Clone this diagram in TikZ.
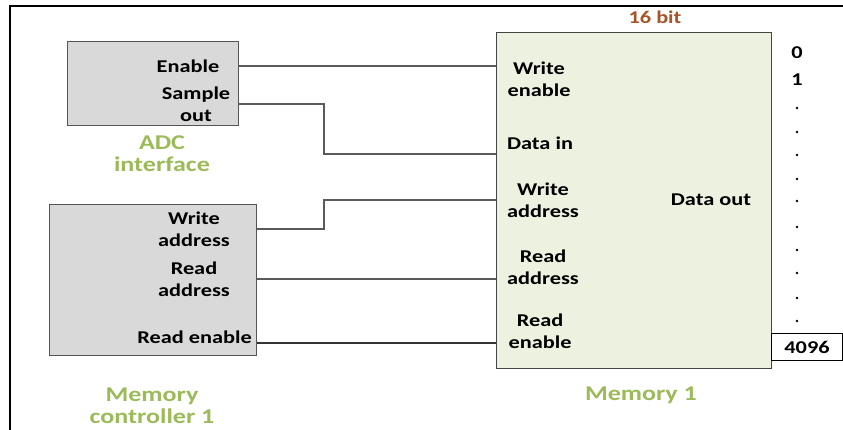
\documentclass[tikz,border=0pt]{standalone}
\usepackage{fontspec}
\setmainfont{Carlito}[FakeStretch=1.24]
\definecolor{boxgray}{RGB}{217,217,217}
\definecolor{memfill}{RGB}{237,242,224}
\definecolor{edgegray}{RGB}{85,85,85}
\definecolor{wiregray}{RGB}{90,90,90}
\definecolor{labgreen}{RGB}{155,187,89}
\definecolor{bitbrown}{RGB}{166,84,40}
\tikzset{
  graybox/.style={draw=edgegray, line width=1.3pt, fill=boxgray, anchor=north west, inner sep=0pt},
  membox/.style={draw=edgegray!80!black, line width=1.3pt, fill=memfill, anchor=north west, inner sep=0pt},
  cellbox/.style={draw=black, line width=1pt, fill=white, anchor=north west, inner sep=0pt, font=\fontsize{18}{22}\selectfont\bfseries},
  pin/.style={font=\fontsize{18}{22}\selectfont\bfseries, text=black, align=center, inner sep=0pt},
  title/.style={font=\fontsize{21}{22}\selectfont\bfseries, text=labgreen, align=center, inner sep=0pt},
  wire/.style={draw=wiregray, line width=1.2pt},
  frameline/.style={draw=black, line width=1.8pt},
}
\begin{document}
\begin{tikzpicture}[x=1pt, y=-1pt]
\useasboundingbox (0,0) rectangle (843,430);

% frame
\coordinate (f-top) at (10,6);
\coordinate (f-right) at (843,6);
\coordinate (f-bot) at (10,430);
\draw[frameline] (f-bot) -- (f-top) -- (f-right);

% blocks
\node[graybox, minimum width=171pt, minimum height=84pt] (adc) at (67,41) {};
\node[graybox, minimum width=207pt, minimum height=151pt] (mc) at (49,204) {};
\node[membox, minimum width=275pt, minimum height=336pt] (mem) at (496,32) {};
\node[cellbox, minimum width=71pt, minimum height=27pt] (cell) at (771,333) {4096};

% ADC interface pins
\node[pin] (adc-en-t) at (188,66) {Enable};
\node[pin] (adc-so-t) at (196,104) {Sample\\out};
\node[title] (adc-t) at (162,154) {ADC\\interface};

% memory controller pins
\node[pin] (mc-wa-t) at (194,229) {Write\\address};
\node[pin] (mc-ra-t) at (194,279) {Read\\address};
\node[pin, anchor=east] (mc-re-t) at (252,337) {Read enable};
\node[title] (mc-t) at (152,406) {Memory\\controller 1};

% memory pins
\node[pin] (m-we-t) at (539,79) {Write\\enable};
\node[pin] (m-di-t) at (540,143) {Data in};
\node[pin] (m-wa-t) at (543,200) {Write\\address};
\node[pin] (m-ra-t) at (543,267) {Read\\address};
\node[pin] (m-re-t) at (540,331) {Read\\enable};
\node[pin] (m-do-t) at (711,200) {Data out};
\node[title] (mem-t) at (641,395) {Memory 1};
\node[pin, text=bitbrown] (bits) at (655,17) {16 bit};

% address column
\node[pin] (a0) at (797,53) {0};
\node[pin] (a1) at (797,80) {1};
\foreach \yy [count=\i] in {108,132,155,179,201,227,250,273,298,321}
  \fill (797,\yy) circle (1.3pt) coordinate (dot\i);

% connection points
\coordinate (adc-en) at (adc.east |- 0,66);
\coordinate (adc-so) at (adc.east |- 0,104);
\coordinate (mc-wa) at (mc.east |- 0,229);
\coordinate (mc-ra) at (mc.east |- 0,279);
\coordinate (mc-re) at (mc.east |- 0,343);
\coordinate (m-we) at (mem.west |- 0,66);
\coordinate (m-di) at (mem.west |- 0,154);
\coordinate (m-wa) at (mem.west |- 0,200);
\coordinate (m-ra) at (mem.west |- 0,279);
\coordinate (m-re) at (mem.west |- 0,343);
\coordinate (jog1) at (324,104);
\coordinate (jog2) at (324,154);
\coordinate (jog3) at (324,229);
\coordinate (jog4) at (324,200);

% wires
\draw[wire] (adc-en) -- (m-we);
\draw[wire] (adc-so) -- (jog1) -- (jog2) -- (m-di);
\draw[wire] (mc-wa) -- (jog3) -- (jog4) -- (m-wa);
\draw[wire] (mc-ra) -- (m-ra);
\draw[wire, draw=black!80, line width=1.1pt] (mc-re) -- (m-re);
\end{tikzpicture}
\end{document}
